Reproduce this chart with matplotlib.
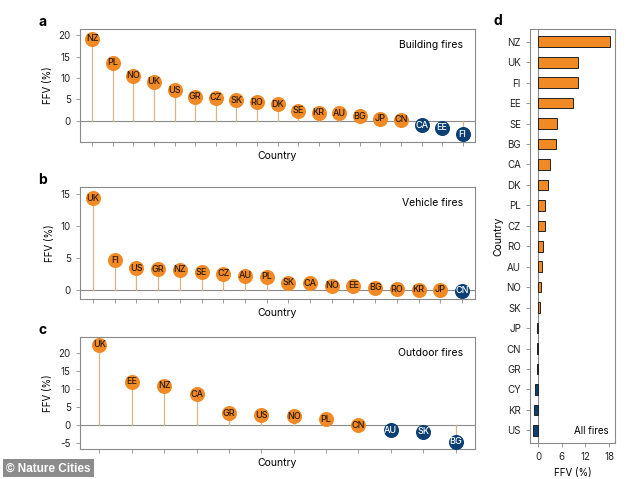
import numpy as np
import matplotlib.pyplot as plt

plt.rcParams["font.family"] = ["Inter", "DejaVu Sans"]
plt.rcParams["axes.unicode_minus"] = False

ORANGE = "#f18a24"
BLUE = "#0b3f73"
STEM = "#d8b38a"
SPINE = "#8a8a8a"

# 数据
a_countries = ["NZ", "PL", "NO", "UK", "US", "GR", "CZ", "SK", "RO", "DK",
               "SE", "KR", "AU", "BG", "JP", "CN", "CA", "EE", "FI"]
a_values = [19.2, 13.6, 10.5, 9.1, 7.2, 5.6, 5.4, 4.8, 4.3, 3.9,
            2.3, 1.9, 1.7, 1.1, 0.5, 0.2, -1.1, -1.6, -3.2]

b_countries = ["UK", "FI", "US", "GR", "NZ", "SE", "CZ", "AU", "PL", "SK",
               "CA", "NO", "EE", "BG", "RO", "KR", "JP", "CN"]
b_values = [14.3, 4.7, 3.4, 3.3, 3.2, 2.8, 2.6, 2.3, 2.1, 1.2,
            1.1, 0.7, 0.7, 0.4, 0.2, 0.05, 0.05, -0.1]

c_countries = ["UK", "EE", "NZ", "CA", "GR", "US", "NO", "PL", "CN", "AU", "SK", "BG"]
c_values = [22.1, 12.0, 10.8, 8.5, 3.3, 2.7, 2.4, 1.6, 0.0, -1.4, -1.8, -4.6]

d_countries = ["NZ", "UK", "FI", "EE", "SE", "BG", "CA", "DK", "PL", "CZ",
               "RO", "AU", "NO", "SK", "JP", "CN", "GR", "CY", "KR", "US"]
d_values = [18.25, 10.2, 10.0, 8.7, 4.75, 4.6, 3.1, 2.5, 1.8, 1.6,
            1.2, 1.0, 0.8, 0.5, -0.25, -0.2, -0.2, -0.85, -1.1, -1.3]

fig = plt.figure(figsize=(6.34, 4.79), dpi=100)


def style_axes(ax):
    for s in ax.spines.values():
        s.set_color(SPINE)
        s.set_linewidth(0.8)
    ax.tick_params(colors="#222222", labelsize=7, length=3, width=0.6)
    ax.tick_params(axis="both", color=SPINE)


def lollipop(ax, names, vals, ylim, yticks, title, letter):
    x = np.arange(len(vals))
    ax.axhline(0, color=SPINE, lw=0.8, zorder=1)
    for xi, v, n in zip(x, vals, names):
        ax.plot([xi, xi], [0, v], color=STEM, lw=0.9, zorder=2)
        fc = BLUE if v < 0 else ORANGE
        ax.plot(xi, v, "o", ms=9.8, mfc=fc, mec=fc, zorder=3)
        ax.text(xi, v, n, ha="center", va="center", fontsize=6.5, fontweight="medium",
                color="white" if v < 0 else "#2a1a0a", zorder=4)
    ax.set_xlim(-0.6, len(vals) - 0.4)
    ax.set_ylim(*ylim)
    ax.set_yticks(yticks)
    ax.set_xticks(x)
    ax.set_xticklabels([])
    ax.set_xlabel("Country", fontsize=7.5, labelpad=0)
    ax.set_ylabel("FFV (%)", fontsize=7)
    ax.text(0.97, 0.86, title, transform=ax.transAxes, ha="right", va="center", fontsize=7.5)
    ax.text(-0.094, 1.065, letter, transform=ax.transAxes, ha="center", va="center",
            fontsize=10, fontweight="bold")
    style_axes(ax)


ax_a = fig.add_axes([0.1262, 0.7035, 0.623, 0.2359])
lollipop(ax_a, a_countries, a_values, (-5, 21.5), [0, 5, 10, 15, 20], "Building fires", "a")

ax_b = fig.add_axes([0.1262, 0.3751, 0.623, 0.2338])
lollipop(ax_b, b_countries, b_values, (-1.4, 16.0), [0, 5, 10, 15], "Vehicle fires", "b")

ax_c = fig.add_axes([0.1262, 0.0626, 0.623, 0.2338])
lollipop(ax_c, c_countries, c_values, (-6.6, 24.3), [-5, 0, 5, 10, 15, 20], "Outdoor fires", "c")

# 面板 d：横向条形图
ax_d = fig.add_axes([0.836, 0.0752, 0.134, 0.864])
y = np.arange(len(d_values))
colors = [ORANGE if v > 0 else BLUE for v in d_values]
ax_d.axvline(0, color=SPINE, lw=0.8, zorder=1)
ax_d.barh(y, d_values, height=0.52, color=colors, edgecolor="#222222", linewidth=0.7, zorder=2)
ax_d.set_yticks(y)
ax_d.set_yticklabels(d_countries)
ax_d.set_ylim(len(d_values) - 0.38, -0.62)
ax_d.set_xlim(-2.1, 19.5)
ax_d.set_xticks([0, 6, 12, 18])
ax_d.set_xlabel("FFV (%)", fontsize=7)
ax_d.set_ylabel("Country", fontsize=7.5, labelpad=2)
ax_d.text(0.93, 0.03, "All fires", transform=ax_d.transAxes, ha="right", va="center", fontsize=7)
ax_d.text(-0.376, 1.019, "d", transform=ax_d.transAxes, ha="center", va="center",
          fontsize=10, fontweight="bold")
style_axes(ax_d)

# 水印
fig.text(0.01, 0.016, "© Nature Cities", fontsize=8.5, fontweight="bold", color="white",
         family=["Liberation Sans", "DejaVu Sans"],
         bbox=dict(boxstyle="square,pad=0.25", fc="#8c8c8c", ec="none"))

fig.savefig("out.png", dpi=100)
